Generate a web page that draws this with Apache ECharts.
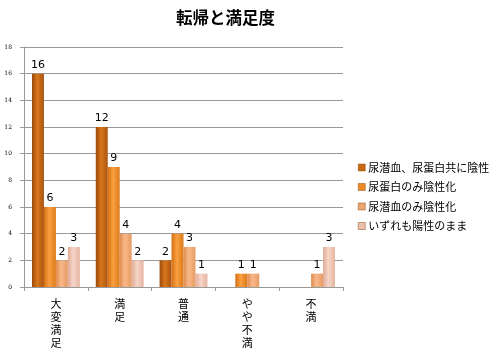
<!DOCTYPE html>
<html><head><meta charset="utf-8">
<script src="https://cdn.jsdelivr.net/npm/echarts@6/dist/echarts.min.js"></script>
<style>html,body{margin:0;padding:0;background:#fff}#c{width:500px;height:357px}</style>
</head><body><div id="c"></div>
<script>
const categories = ['大変満足', '満足', '普通', 'やや不満', '不満'];
const seriesNames = ['尿潜血、尿蛋白共に陰性', '尿蛋白のみ陰性化', '尿潜血のみ陰性化', 'いずれも陽性のまま'];
const s1 = [16, 12, 2, null, null];
const s2 = [6, 9, 4, 1, null];
const s3 = [2, 4, 3, 1, 1];
const s4 = [3, 2, 1, null, 3];
const yTicks = [0, 2, 4, 6, 8, 10, 12, 14, 16, 18];

const colors = [
  ['#9a4a0c', '#d8761c', '#a9530f'],
  ['#d46f12', '#f9a040', '#dc7a1a'],
  ['#e08c4e', '#f8b98a', '#e69a62'],
  ['#e0aa94', '#f6d6c8', '#e5b4a0']
];
const legendColors = ['#c86a14', '#ee8a24', '#f0a670', '#ecc0ac'];
function grad(c) {
  return new echarts.graphic.LinearGradient(0, 0, 1, 0, [
    {offset: 0, color: c[0]}, {offset: 0.45, color: c[1]}, {offset: 1, color: c[2]}
  ]);
}
const data = [s1, s2, s3, s4];
const chart = echarts.init(document.getElementById('c'));
chart.setOption({
  animation: false,
  title: {text: '転帰と満足度', left: 171, top: 4,
    textStyle: {fontSize: 16.5, fontWeight: 'bold', color: '#000', fontFamily: 'Noto Sans CJK JP'}},
  legend: {
    orient: 'vertical', left: 353, top: 157, itemGap: 8.5, itemWidth: 7, itemHeight: 7,
    icon: 'rect',
    textStyle: {fontSize: 11, color: '#000', fontFamily: 'Noto Sans CJK JP', padding: [0, 0, 0, -2]},
    data: seriesNames.map((n, i) => ({name: n, itemStyle: {color: legendColors[i], borderColor: '#8a4a10', borderWidth: 0.5}}))
  },
  grid: {left: 24, right: 157, top: 47, bottom: 70},
  xAxis: {
    type: 'category', data: categories,
    axisLine: {lineStyle: {color: '#999'}},
    axisTick: {show: true, length: 4, lineStyle: {color: '#999'}},
    axisLabel: {color: '#000', fontSize: 11, fontFamily: 'Noto Sans CJK JP', lineHeight: 13, margin: 10,
      formatter: v => v.split('').join('\n')}
  },
  yAxis: {
    type: 'value', min: 0, max: 18, interval: 2,
    axisLine: {show: true, lineStyle: {color: '#999'}},
    axisTick: {show: true, length: 4, lineStyle: {color: '#999'}},
    splitLine: {lineStyle: {color: '#999'}},
    axisLabel: {color: '#000', fontSize: 6, margin: 12, fontFamily: 'DejaVu Serif',
      formatter: v => yTicks.includes(v) ? String(v) : ''}
  },
  series: data.map((d, i) => ({
    name: seriesNames[i], type: 'bar', data: d,
    barGap: '0%', barCategoryGap: '25%',
    itemStyle: {color: grad(colors[i])},
    label: {show: true, position: 'top', color: '#000', fontSize: 11, distance: 3, fontFamily: 'DejaVu Sans'}
  }))
});
</script></body></html>
